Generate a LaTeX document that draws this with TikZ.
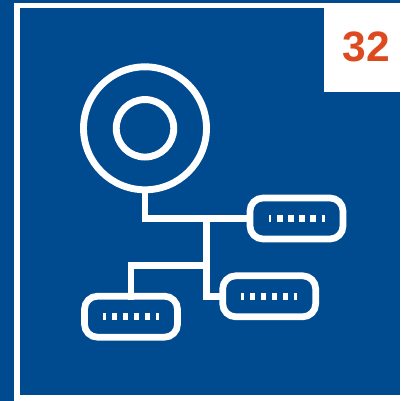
\documentclass[tikz,border=0pt]{standalone}
\usepackage{xcolor}
\usepackage{fontspec}
\setmainfont{Liberation Sans}
\usetikzlibrary{positioning}
\definecolor{panelblue}{RGB}{0,74,143}
\definecolor{badgered}{RGB}{221,74,31}

\begin{document}
\begin{tikzpicture}[
    x=1pt, y=-1pt,
    ring/.style={circle, draw=white, line width=6.9pt, inner sep=0pt, outer sep=0pt},
    router/.style={rectangle, draw=white, line width=6.7pt, rounded corners=13pt, minimum width=93pt, minimum height=41pt, inner sep=0pt, outer sep=0pt},
    link/.style={draw=white, line width=6.8pt}
]
    \useasboundingbox (0,0) rectangle (400,401);
    \fill[panelblue] (0,0) rectangle (400,401);
    \fill[white] (13.5,3) rectangle (400,401);
    \fill[panelblue] (20,8.3) rectangle (400,395);

    \node[fill=white, minimum width=76pt, minimum height=84pt, inner sep=0pt, outer sep=0pt] (badge) at (362,50) {};
    \node[text=badgered, font=\fontsize{42.5}{42.5}\selectfont\bfseries, inner sep=0pt] (number) at (366.5,47) {32};

    \node[ring, minimum size=57.5pt] (camera) at (145,128.3) {};
    \node[ring, minimum size=123pt] (lens) at (145,128.3) {};

    \node[router] (routera) at (296.5,218.5) {};
    \node[router] (routerb) at (269.2,296.3) {};
    \node[router] (routerc) at (131,316.7) {};

    \coordinate (busa) at (206.7,218.5);
    \coordinate (busb) at (206.7,265.7);

    \draw[link] (lens.south) |- (routera.west);
    \draw[link] (busa) |- (routerb.west);
    \draw[link, line cap=rect] (busb) -| (routerc.north);

    \foreach \name in {routera,routerb,routerc} {
        \foreach \dx in {-16.5,-5.5,5.5,16.5}
            \fill[white, shift={(\name.center)}] (\dx-2.7,-3.6) rectangle (\dx+2.7,3.6);
        \foreach \dx in {-26.6,26.6}
            \fill[white, shift={(\name.center)}] (\dx-1.4,-3.6) rectangle (\dx+1.4,3.6);
    }
\end{tikzpicture}
\end{document}
